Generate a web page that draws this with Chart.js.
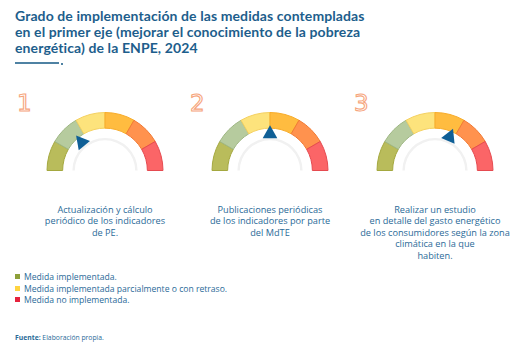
<!DOCTYPE html>
<html><head><meta charset="utf-8">
<script src="https://cdn.jsdelivr.net/npm/chart.js@4/dist/chart.umd.min.js"></script>
<style>
html,body{margin:0;padding:0;background:#fff;width:512px;height:357px;overflow:hidden;}
body{position:relative;font-family:"Open Sans",sans-serif;}
.title{position:absolute;left:15px;top:8px;font-family:Lato,sans-serif;font-weight:700;font-size:14px;line-height:16px;color:#1d5e8c;letter-spacing:0.1px;}
.rule{position:absolute;left:15px;top:62px;width:44px;height:2px;background:#4f82a3;}
.dot{position:absolute;left:61px;top:63px;width:1.5px;height:1.5px;background:#4f82a3;}
.num{position:absolute;top:91.5px;font-size:23px;line-height:23px;font-weight:400;color:#fff;-webkit-text-stroke:1.1px #f6a57c;font-family:"DejaVu Sans",sans-serif;}
canvas{position:absolute;}
.lbl{position:absolute;top:203.5px;width:180px;text-align:center;font-size:9.2px;line-height:11.6px;color:#2a6a98;}
.leg{position:absolute;left:15px;font-size:8.6px;color:#2a6a98;line-height:11px;}
.leg i{display:inline-block;width:5px;height:5px;margin-right:4px;vertical-align:1px;}
.src{position:absolute;left:15px;top:333px;font-size:6.8px;color:#2a6a98;}
</style></head>
<body>
<div class="title">Grado de implementación de las medidas contempladas<br>en el primer eje (mejorar el conocimiento de la pobreza<br>energética) de la ENPE, 2024</div>
<div class="rule"></div><div class="dot"></div>
<div class="num" style="left:17px">1</div>
<div class="num" style="left:190px">2</div>
<div class="num" style="left:354px">3</div>
<canvas id="g0" width="124" height="64" style="left:43px;top:109px"></canvas>
<canvas id="g1" width="124" height="64" style="left:208px;top:109px"></canvas>
<canvas id="g2" width="124" height="64" style="left:373px;top:109px"></canvas>
<div class="lbl" id="l0" style="left:15px"></div>
<div class="lbl" id="l1" style="left:180px"></div>
<div class="lbl" id="l2" style="left:345px"></div>
<div class="leg" style="top:272px"><i style="background:#8ea03a"></i>Medida implementada.</div>
<div class="leg" style="top:283.5px"><i style="background:#ffd440"></i>Medida implementada parcialmente o con retraso.</div>
<div class="leg" style="top:295px"><i style="background:#e6223c"></i>Medida no implementada.</div>
<div class="src"><b>Fuente:</b> Elaboración propia.</div>
<script>
// Gauge segments (equal sixths)
const segmentValues = [1, 1, 1, 1, 1, 1];
const segmentColors = ['#b9bc5b', '#b6cb9e', '#fde37c', '#ffbc40', '#ff924e', '#fb6567'];
const segmentBorders = ['#a4a83f', '#9fb784', '#f4d060', '#f7ab2a', '#f07a35', '#e54a50'];
// Pointer positions (0 = left end, 100 = right end)
const pointerValues = [28, 50, 63];
const measureLabels = [
  ['Actualización y cálculo', 'periódico de los indicadores', 'de PE.'],
  ['Publicaciones periódicas', 'de los indicadores por parte', 'del MdTE'],
  ['Realizar un estudio', 'en detalle del gasto energético', 'de los consumidores según la zona', 'climática en la que', 'habiten.']
];

measureLabels.forEach((lines, i) => {
  document.getElementById('l' + i).innerHTML = lines.join('<br>');
});

const pointerPlugin = {
  id: 'pointer',
  afterDatasetsDraw(chart) {
    const v = chart.options.plugins.pointer.value;
    const arc = chart.getDatasetMeta(0).data[0];
    const cx = arc.x, cy = arc.y;
    const ri = arc.innerRadius;
    const a = Math.PI - (v / 100) * Math.PI;
    const ux = Math.cos(a), uy = -Math.sin(a);
    const px = -uy, py = ux;
    const tipX = cx + ux * (ri + 3), tipY = cy + uy * (ri + 3);
    const bx = cx + ux * (ri - 10), by = cy + uy * (ri - 10);
    const ctx = chart.ctx;
    ctx.save();
    ctx.fillStyle = '#0f5f96';
    ctx.beginPath();
    ctx.moveTo(tipX, tipY);
    ctx.lineTo(bx + px * 7.3, by + py * 7.3);
    ctx.lineTo(bx - px * 7.3, by - py * 7.3);
    ctx.closePath();
    ctx.fill();
    ctx.restore();
  }
};

pointerValues.forEach((val, i) => {
  new Chart(document.getElementById('g' + i), {
    type: 'doughnut',
    data: {
      labels: segmentValues.map((_, k) => 'S' + k),
      datasets: [
        { data: segmentValues, backgroundColor: segmentColors, borderColor: segmentBorders, borderWidth: 1, weight: 16 },
        { data: [1], backgroundColor: 'rgba(0,0,0,0)', borderWidth: 0, weight: 10 },
        { data: [1], backgroundColor: '#f1f1f1', borderWidth: 0, weight: 2.5 }
      ]
    },
    options: {
      responsive: false,
      animation: false,
      rotation: -90,
      circumference: 180,
      cutout: '52%',
      layout: { padding: { left: 3, right: 3, top: 3, bottom: 2 } },
      plugins: { legend: { display: false }, tooltip: { enabled: false }, pointer: { value: val } }
    },
    plugins: [pointerPlugin]
  });
});
</script>
</body></html>
